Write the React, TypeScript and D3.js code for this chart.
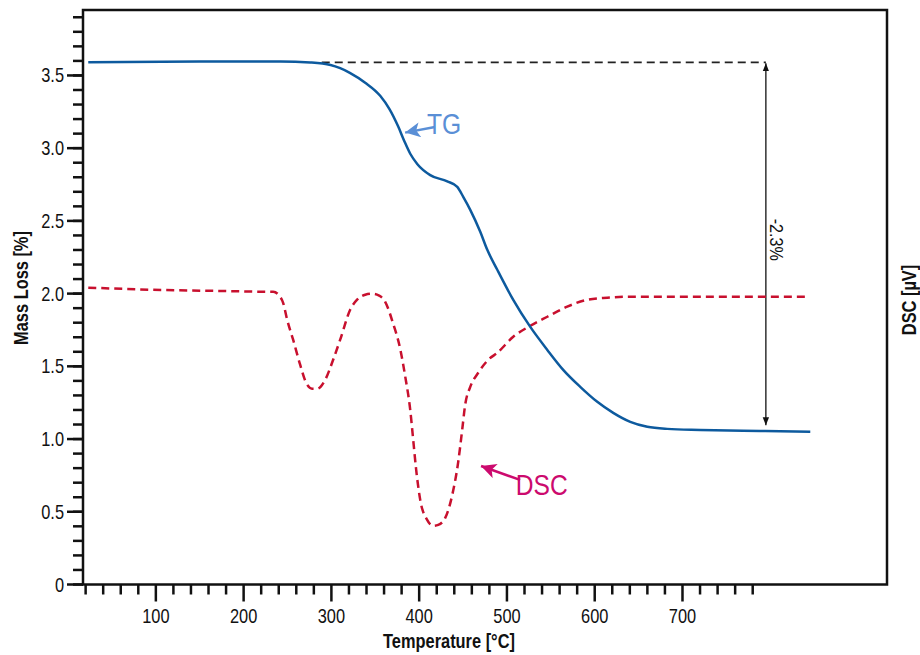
import React from "react";
import * as d3 from "d3";

// TG curve (mass loss, %)
const tgTemp = [23, 150, 242, 276, 299, 310, 321, 338.5, 355.6, 366, 376, 383, 390, 398, 412.6, 432, 443.4, 450.2, 458.2, 469.6, 477.6, 489, 507.2, 526.6, 546, 564.1, 583.5, 602.9, 621.1, 640.5, 659.9, 682.6, 720.2, 788.6, 845.6];
const tgValue = [3.59, 3.596, 3.596, 3.589, 3.572, 3.55, 3.518, 3.45, 3.36, 3.27, 3.15, 3.05, 2.96, 2.89, 2.815, 2.772, 2.734, 2.665, 2.576, 2.425, 2.301, 2.164, 1.957, 1.771, 1.613, 1.476, 1.359, 1.256, 1.18, 1.118, 1.084, 1.07, 1.063, 1.056, 1.05];

// DSC curve (dashed)
const dscTemp = [23, 93.5, 184.7, 224.6, 233.7, 240.5, 245, 249.6, 256.4, 264.4, 271.2, 278, 283.8, 292.9, 302, 310, 321.4, 329.3, 338.5, 346.4, 354.4, 361.3, 370, 378.4, 384.1, 389.8, 393.2, 396.6, 401.2, 409.1, 416, 421.7, 429.7, 437.7, 444.5, 449, 452.4, 458.2, 467.3, 478.7, 489, 507.2, 526.6, 546, 568.7, 591.5, 614.3, 640.5, 697.5, 841];
const dscValue = [2.041, 2.027, 2.017, 2.013, 2.013, 1.986, 1.937, 1.82, 1.683, 1.511, 1.387, 1.346, 1.346, 1.407, 1.545, 1.683, 1.889, 1.958, 1.992, 1.999, 1.986, 1.944, 1.8, 1.62, 1.43, 1.201, 0.995, 0.788, 0.582, 0.444, 0.403, 0.41, 0.458, 0.616, 0.843, 1.063, 1.235, 1.359, 1.456, 1.545, 1.593, 1.703, 1.779, 1.841, 1.91, 1.958, 1.972, 1.979, 1.979, 1.979];

const yMajor = [0, 0.5, 1.0, 1.5, 2.0, 2.5, 3.0, 3.5];
const yLabels = ["0", "0.5", "1.0", "1.5", "2.0", "2.5", "3.0", "3.5"];
const xMajor = [100, 200, 300, 400, 500, 600, 700];

// step annotation
const stepTop = 3.59;
const stepBottom = 1.095;
const stepStartT = 289;
const stepT = 795;
const stepLabel = "-2.3%";

const width = 920;
const height = 655;
const font = "'Liberation Sans', Arial, sans-serif";
const squeeze = 0.82;

// condensed text: Liberation Sans squeezed horizontally
function CText({ x, y, rotate = 0, sx = squeeze, children, ...rest }: any) {
  return (
    <text transform={`translate(${x},${y}) rotate(${rotate}) scale(${sx},1)`} {...rest}>
      {children}
    </text>
  );
}

export default function App() {
  const x = d3.scaleLinear().domain([17, 933]).range([83, 887]);
  const y = d3.scaleLinear().domain([0, 3.95]).range([584.5, 10]);

  const tgPath = d3
    .line<number>()
    .x((d) => x(d))
    .y((d, i) => y(tgValue[i]))
    .curve(d3.curveMonotoneX)(tgTemp);
  const dscPath = d3
    .line<number>()
    .x((d) => x(d))
    .y((d, i) => y(dscValue[i]))
    .curve(d3.curveMonotoneX)(dscTemp);

  const yMinor = d3.range(0, 40).map((i) => i / 10);
  const xMinor = d3.range(20, 781, 20);

  const [x0, x1] = x.range();
  const [yb, yt] = y.range();

  return (
    <svg
      width={width}
      height={height}
      style={{ position: "absolute", left: 0, top: 0, background: "#fff" }}
      fontFamily={font}
    >
      <defs>
        <marker id="blk" viewBox="0 0 10 10" refX="10" refY="5" markerWidth="8" markerHeight="8" markerUnits="userSpaceOnUse" orient="auto-start-reverse">
          <path d="M0,1 L10,5 L0,9 Z" fill="#111" />
        </marker>
        <marker id="tgArrow" viewBox="0 0 10 10" refX="10" refY="5" markerWidth="17" markerHeight="15" markerUnits="userSpaceOnUse" orient="auto">
          <path d="M0,0 L10,5 L0,10 L2.5,5 Z" fill="#5a8fd6" />
        </marker>
        <marker id="dscArrow" viewBox="0 0 10 10" refX="10" refY="5" markerWidth="17" markerHeight="15" markerUnits="userSpaceOnUse" orient="auto">
          <path d="M0,0 L10,5 L0,10 L2.5,5 Z" fill="#cc0a6e" />
        </marker>
      </defs>

      {/* frame */}
      <rect x={x0} y={yt} width={x1 - x0} height={yb - yt} fill="none" stroke="#111" strokeWidth={2.5} />

      {/* y ticks */}
      {yMinor.map((v) => (
        <line key={"ym" + v} x1={x0 - 10} x2={x0} y1={y(v)} y2={y(v)} stroke="#111" strokeWidth={2.5} />
      ))}
      {yMajor.map((v, i) => (
        <g key={"yM" + v}>
          <line x1={x0 - 16} x2={x0} y1={y(v)} y2={y(v)} stroke="#111" strokeWidth={2.5} />
          <CText x={x0 - 19} y={y(v) + 7} textAnchor="end" fontSize={20} fill="#111">
            {yLabels[i]}
          </CText>
        </g>
      ))}

      {/* x ticks */}
      {xMinor.map((t) => (
        <line key={"xm" + t} x1={x(t)} x2={x(t)} y1={yb} y2={yb + (t % 100 === 0 ? 17 : 10)} stroke="#111" strokeWidth={2.5} />
      ))}
      {xMajor.map((t) => (
        <CText key={"xl" + t} x={x(t)} y={623} textAnchor="middle" fontSize={20} fill="#111">
          {t}
        </CText>
      ))}

      {/* axis titles */}
      <CText x={449} y={648} textAnchor="middle" fontSize={20} fontWeight="bold" fill="#111">
        Temperature [°C]
      </CText>
      <CText x={28} y={288} rotate={-90} textAnchor="middle" fontSize={20} fontWeight="bold" fill="#111">
        Mass Loss [%]
      </CText>
      <CText x={916} y={300} rotate={-90} textAnchor="middle" fontSize={20} fontWeight="bold" fill="#111">
        DSC [µV]
      </CText>

      {/* step annotation */}
      <line x1={x(stepStartT)} x2={x(stepT)} y1={y(stepTop)} y2={y(stepTop)} stroke="#222" strokeWidth={1.6} strokeDasharray="8 5" />
      <line x1={x(stepT)} x2={x(stepT)} y1={y(stepTop) + 1} y2={y(stepBottom)} stroke="#111" strokeWidth={1.3} markerStart="url(#blk)" markerEnd="url(#blk)" />
      <CText x={x(stepT) + 4} y={y(2.37)} rotate={90} sx={0.9} textAnchor="middle" fontSize={18} fill="#111">
        {stepLabel}
      </CText>

      {/* curves */}
      <path d={dscPath || ""} fill="none" stroke="#c8102e" strokeWidth={2.5} strokeDasharray="8 5" />
      <path d={tgPath || ""} fill="none" stroke="#0d5a9e" strokeWidth={2.5} />

      {/* labels */}
      <line x1={x(418)} y1={y(3.146)} x2={x(384)} y2={y(3.107)} stroke="#5a8fd6" strokeWidth={2.5} markerEnd="url(#tgArrow)" />
      <CText x={x(409)} y={y(3.1)} fontSize={30} fill="#5a8fd6">
        TG
      </CText>
      <line x1={x(515)} y1={y(0.719)} x2={x(470.5)} y2={y(0.815)} stroke="#cc0a6e" strokeWidth={2.5} markerEnd="url(#dscArrow)" />
      <CText x={x(510)} y={y(0.616)} fontSize={30} fill="#cc0a6e">
        DSC
      </CText>
    </svg>
  );
}
